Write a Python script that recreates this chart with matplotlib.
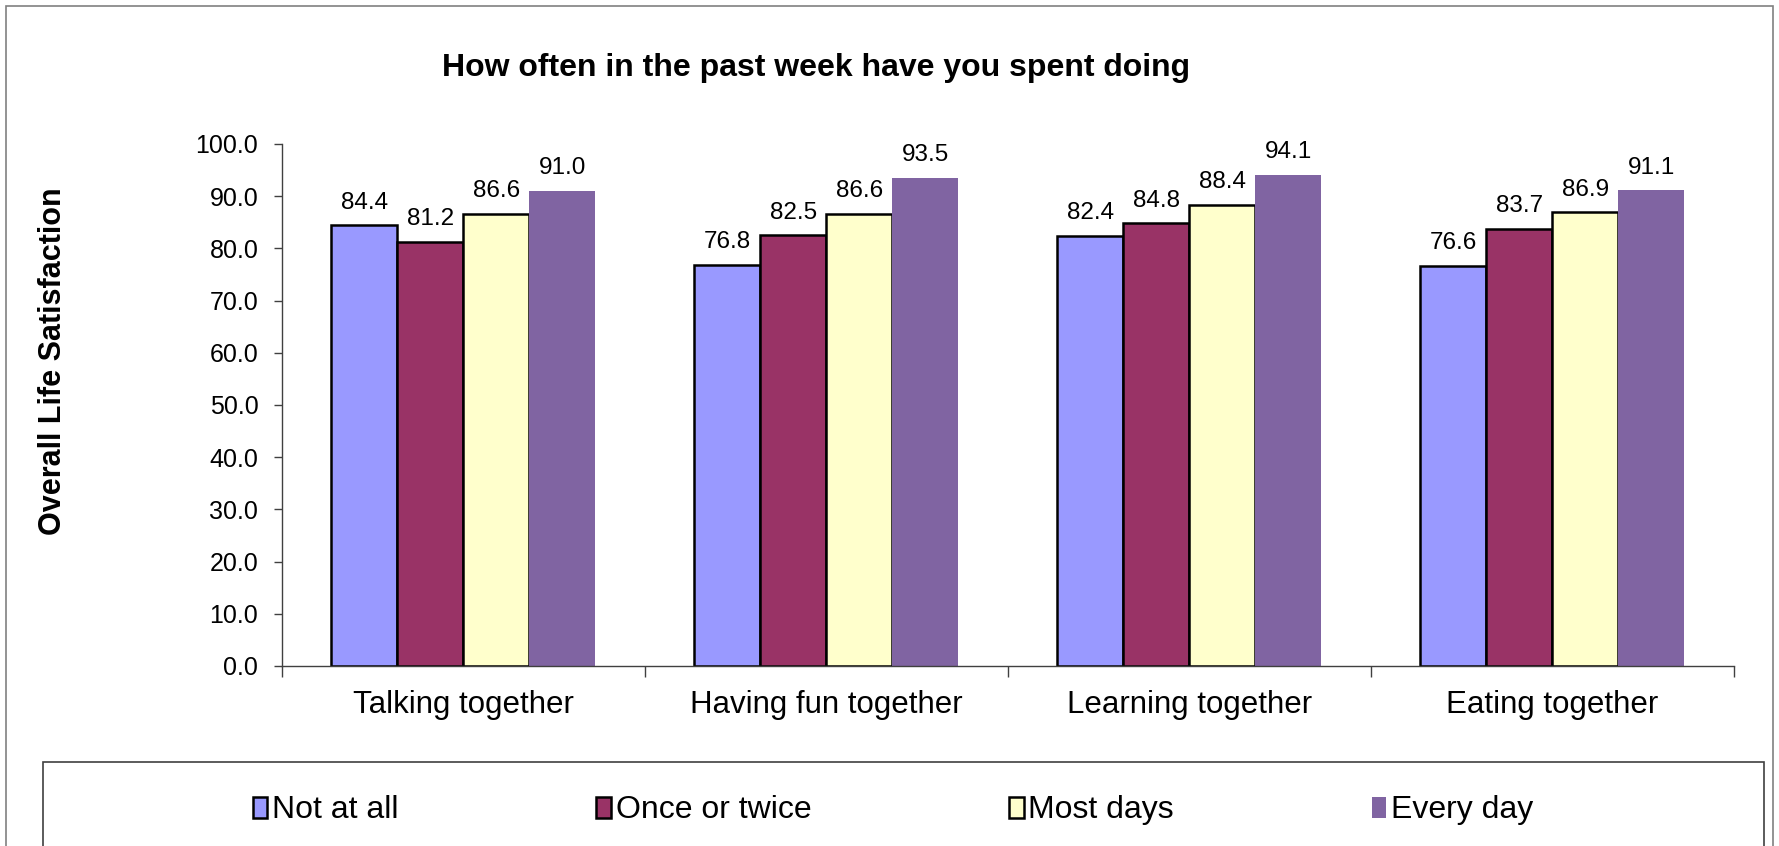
import numpy as np
import matplotlib.pyplot as plt
from matplotlib.patches import Rectangle

plt.rcParams['font.family'] = ['Liberation Sans', 'DejaVu Sans']

# Survey results: mean life satisfaction by frequency of family activity
activities = ["Talking together", "Having fun together", "Learning together", "Eating together"]
frequencies = ["Not at all", "Once or twice", "Most days", "Every day"]
not_at_all = [84.4, 76.8, 82.4, 76.6]
once_or_twice = [81.2, 82.5, 84.8, 83.7]
most_days = [86.6, 86.6, 88.4, 86.9]
every_day = [91.0, 93.5, 94.1, 91.1]

series = [not_at_all, once_or_twice, most_days, every_day]
colors = ["#9999FF", "#993366", "#FFFFCC", "#8064A2"]
edges = ["black", "black", "black", "none"]

fig = plt.figure(figsize=(17.79, 8.46), dpi=100)
ax = fig.add_axes([0.1585, 0.2128, 0.8162, 0.6170])

x = np.arange(len(activities))
w = 1 / 5.5
for i, (vals, col, ec) in enumerate(zip(series, colors, edges)):
    pos = x + (i - 1.5) * w
    bars = ax.bar(pos, vals, w, color=col, edgecolor=ec, linewidth=1.8,
                  label=frequencies[i], zorder=2)
    for b, v in zip(bars, vals):
        ax.annotate(f"{v:.1f}", (b.get_x() + b.get_width() / 2, v),
                    xytext=(0, 8.5), textcoords="offset points",
                    ha="center", va="bottom", fontsize=17.5)

ax.set_xlim(-0.5, 3.5)
ax.set_ylim(0, 100)
ax.set_yticks(np.arange(0, 101, 10))
ax.set_yticklabels([f"{t:.1f}" for t in np.arange(0, 101, 10)])
ax.tick_params(axis="y", labelsize=18, length=6, width=1, color="#404040", pad=11)

# category boundaries as ticks, names centred between them
ax.set_xticks(np.arange(-0.5, 4, 1))
ax.set_xticklabels([])
ax.set_xticks(x, minor=True)
ax.set_xticklabels(activities, minor=True)
ax.tick_params(axis="x", which="major", length=8, width=1, color="#404040")
ax.tick_params(axis="x", which="minor", length=0, labelsize=22.5, pad=17)

for s in ["top", "right"]:
    ax.spines[s].set_visible(False)
for s in ["left", "bottom"]:
    ax.spines[s].set_color("#404040")
    ax.spines[s].set_linewidth(1)

fig.text(0.459, 0.920, "How often in the past week have you spent doing",
         ha="center", va="center", fontsize=23, fontweight="bold")
fig.text(0.030, 0.573, "Overall Life Satisfaction", rotation=90,
         ha="center", va="center", fontsize=22, fontweight="bold")

# outer chart frame and legend box
fig.patches.append(Rectangle((6 / 1779, -0.1), 1767 / 1779, 1.1 - 6 / 846,
                             transform=fig.transFigure, fill=False,
                             edgecolor="#808080", linewidth=1.2))
fig.patches.append(Rectangle((43 / 1779, -0.1), 1721 / 1779, 0.1 + (846 - 762) / 846,
                             transform=fig.transFigure, fill=False,
                             edgecolor="#404040", linewidth=1.2))

fig.legend(loc="center", bbox_to_anchor=(0.502, 0.042), ncol=4, frameon=False,
           fontsize=23, handlelength=0.45, handleheight=0.65, handletextpad=0.15,
           columnspacing=6.2)

fig.savefig("out.png", dpi=100)
